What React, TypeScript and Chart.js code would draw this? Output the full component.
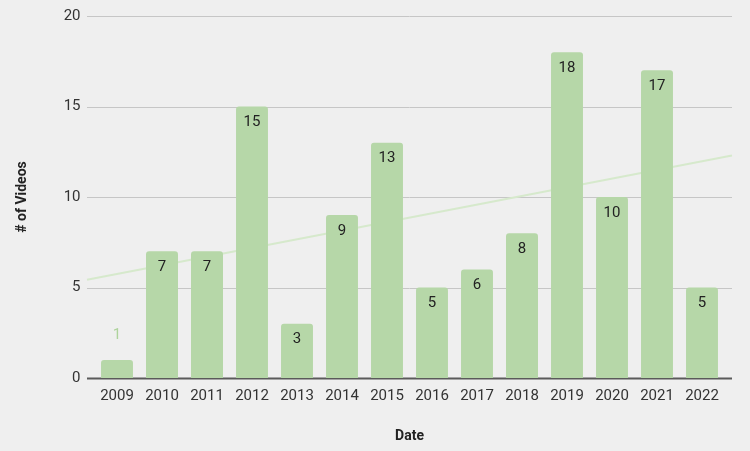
import React, { useEffect, useRef } from "react";
import { Chart, registerables } from "chart.js";

Chart.register(...registerables);

const years = ["2009", "2010", "2011", "2012", "2013", "2014", "2015", "2016", "2017", "2018", "2019", "2020", "2021", "2022"];
const videos = [1, 7, 7, 15, 3, 9, 13, 5, 6, 8, 18, 10, 17, 5];
const yTicks = [0, 5, 10, 15, 20];

const BG = "#efefef";
const BAR = "#b6d7a8";
const TREND = "#d6e9cc";
const FONT = "Roboto, 'Noto Sans', sans-serif";

function regression(vals: number[]) {
  const n = vals.length;
  const mx = (n - 1) / 2;
  const my = vals.reduce((a, b) => a + b, 0) / n;
  let sxy = 0, sxx = 0;
  vals.forEach((v, i) => { sxy += (i - mx) * (v - my); sxx += (i - mx) * (i - mx); });
  const slope = sxy / sxx;
  return { slope, intercept: my - slope * mx };
}

const EXT = 7.5;

const decor = {
  id: "decor",
  beforeDraw(chart: any) {
    const { ctx, width, height } = chart;
    ctx.save();
    ctx.fillStyle = BG;
    ctx.fillRect(0, 0, width, height);
    ctx.restore();
  },
  beforeDatasetsDraw(chart: any) {
    const { ctx, chartArea, scales } = chart;
    const y = scales.y, x = scales.x;
    const l = chartArea.left - EXT, r = chartArea.right + EXT;
    ctx.save();
    yTicks.forEach((t) => {
      const py = Math.round(y.getPixelForValue(t)) + 0.5;
      ctx.beginPath();
      if (t === 0) {
        ctx.strokeStyle = "#5a5a5a";
        ctx.lineWidth = 2;
      } else {
        ctx.strokeStyle = "#c6c6c6";
        ctx.lineWidth = 1;
      }
      ctx.moveTo(l, py);
      ctx.lineTo(r, py);
      ctx.stroke();
    });
    const { slope, intercept } = regression(videos);
    const p0 = x.getPixelForValue(0), p1 = x.getPixelForValue(1);
    const step = p1 - p0;
    const iL = (l - p0) / step, iR = (r - p0) / step;
    ctx.beginPath();
    ctx.strokeStyle = TREND;
    ctx.lineWidth = 2;
    ctx.moveTo(l, y.getPixelForValue(intercept + slope * iL));
    ctx.lineTo(r, y.getPixelForValue(intercept + slope * iR));
    ctx.stroke();
    ctx.restore();
  },
  afterDatasetsDraw(chart: any) {
    const { ctx } = chart;
    const meta = chart.getDatasetMeta(0);
    ctx.save();
    ctx.font = `15px ${FONT}`;
    ctx.textAlign = "center";
    ctx.textBaseline = "middle";
    meta.data.forEach((bar: any, i: number) => {
      const h = bar.base - bar.y;
      if (h < 30) {
        ctx.fillStyle = "#aed39c";
        ctx.fillText(String(videos[i]), bar.x, bar.y - 25);
      } else {
        ctx.fillStyle = "#222222";
        ctx.fillText(String(videos[i]), bar.x, bar.y + 16);
      }
    });
    ctx.restore();
  },
};

export default function App() {
  const ref = useRef<HTMLCanvasElement>(null);
  useEffect(() => {
    if (!ref.current) return;
    const chart = new Chart(ref.current, {
      type: "bar",
      data: {
        labels: years,
        datasets: [
          {
            data: videos,
            backgroundColor: BAR,
            borderRadius: 3,
            categoryPercentage: 1,
            barPercentage: 0.71,
          },
        ],
      },
      options: {
        responsive: false,
        animation: false,
        layout: { padding: { top: 16, right: 25.5, bottom: 0, left: 0 } },
        plugins: { legend: { display: false }, tooltip: { enabled: false } },
        scales: {
          x: {
            grid: { display: false, drawTicks: false },
            border: { display: false },
            ticks: { color: "#333333", font: { family: FONT, size: 15 }, padding: 9, maxRotation: 0 },
            title: { display: true, text: "Date", color: "#222222", font: { family: FONT, size: 14, weight: "bold" }, padding: { top: 0, bottom: 6 } },
            afterFit: (s: any) => { s.height = 73; },
          },
          y: {
            min: 0,
            max: 20,
            grid: { display: false, drawTicks: true, tickLength: 14 },
            border: { display: false },
            ticks: { stepSize: 5, color: "#333333", font: { family: FONT, size: 15 }, padding: 0 },
            title: { display: true, text: "# of Videos", color: "#222222", font: { family: FONT, size: 14, weight: "bold" }, padding: { top: 14, bottom: 0 } },
            afterFit: (s: any) => { s.width = 94.5; },
          },
        },
      },
      plugins: [decor],
    });
    return () => chart.destroy();
  }, []);
  return (
    <div style={{ position: "absolute", left: 0, top: 0, width: 750, height: 451 }}>
      <canvas ref={ref} width={750} height={451} />
    </div>
  );
}
